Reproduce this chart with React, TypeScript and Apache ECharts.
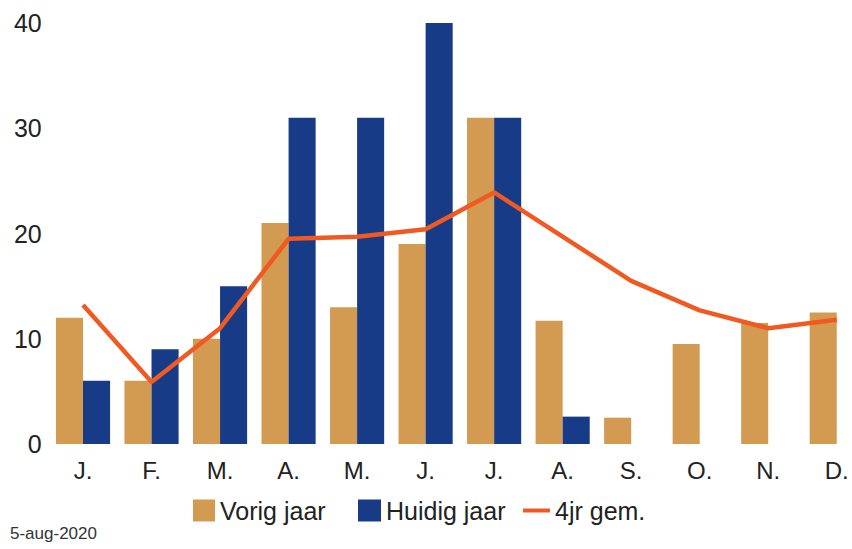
import React, { useEffect, useRef } from "react";
import * as echarts from "echarts";

const categories = ["J.", "F.", "M.", "A.", "M.", "J.", "J.", "A.", "S.", "O.", "N.", "D."];
const vorigJaar = [12, 6, 10, 21, 13, 19, 31, 11.7, 2.5, 9.5, 11.5, 12.5];
const huidigJaar: (number | null)[] = [6, 9, 15, 31, 31, 40, 31, 2.6, null, null, null, null];
const gem4jr = [13.2, 5.9, 11, 19.5, 19.7, 20.4, 23.9, 19.7, 15.5, 12.7, 11, 11.8];
const yTicks = [0, 10, 20, 30, 40];

const ORANGE = "#d39a52";
const BLUE = "#173b87";
const LINE = "#f05a22";
const FONT = "Liberation Sans, Arial, sans-serif";

export default function App() {
  const ref = useRef<HTMLDivElement>(null);
  useEffect(() => {
    document.body.style.margin = "0";
    document.body.style.overflow = "hidden";
    document.documentElement.style.overflow = "hidden";
    const chart = echarts.init(ref.current!, null, { renderer: "svg" });
    const legendText = { fontSize: 25, color: "#222", fontFamily: FONT };
    chart.setOption({
      animation: false,
      backgroundColor: "#ffffff",
      grid: { left: 48.75, right: 0, top: 23, bottom: 105, containLabel: false },
      xAxis: {
        type: "category",
        data: categories,
        axisLine: { show: false },
        axisTick: { show: false },
        axisLabel: { fontSize: 24, color: "#222", fontFamily: FONT, margin: 14 },
      },
      yAxis: {
        type: "value",
        min: yTicks[0],
        max: yTicks[yTicks.length - 1],
        interval: 10,
        splitLine: { show: false },
        axisLine: { show: false },
        axisTick: { show: false },
        axisLabel: { fontSize: 25, color: "#222", fontFamily: FONT, margin: 7 },
      },
      legend: [
        {
          data: [{ name: "Vorig jaar", icon: "rect" }],
          left: 193,
          top: 498,
          itemWidth: 22,
          itemHeight: 22,
          textStyle: legendText,
          padding: 0,
        },
        {
          data: [{ name: "Huidig jaar", icon: "rect" }],
          left: 358,
          top: 498,
          itemWidth: 23,
          itemHeight: 22,
          textStyle: legendText,
          padding: 0,
        },
        {
          data: [{ name: "4jr gem.", icon: "rect" }],
          left: 523,
          top: 498,
          itemWidth: 27,
          itemHeight: 4,
          textStyle: legendText,
          padding: 0,
        },
      ],
      graphic: [
        {
          type: "text",
          left: 10,
          top: 525,
          style: { text: "5-aug-2020", fontSize: 17, fill: "#333", fontFamily: FONT },
        },
      ],
      series: [
        {
          name: "Vorig jaar",
          type: "bar",
          data: vorigJaar,
          barGap: "0%",
          barCategoryGap: "21%",
          itemStyle: { color: ORANGE },
        },
        {
          name: "Huidig jaar",
          type: "bar",
          data: huidigJaar,
          itemStyle: { color: BLUE },
        },
        {
          name: "4jr gem.",
          type: "line",
          data: gem4jr,
          symbol: "none",
          lineStyle: { color: LINE, width: 4.5 },
          itemStyle: { color: LINE },
        },
      ],
    });
    return () => chart.dispose();
  }, []);
  return <div ref={ref} style={{ width: 871, height: 549 }} />;
}
